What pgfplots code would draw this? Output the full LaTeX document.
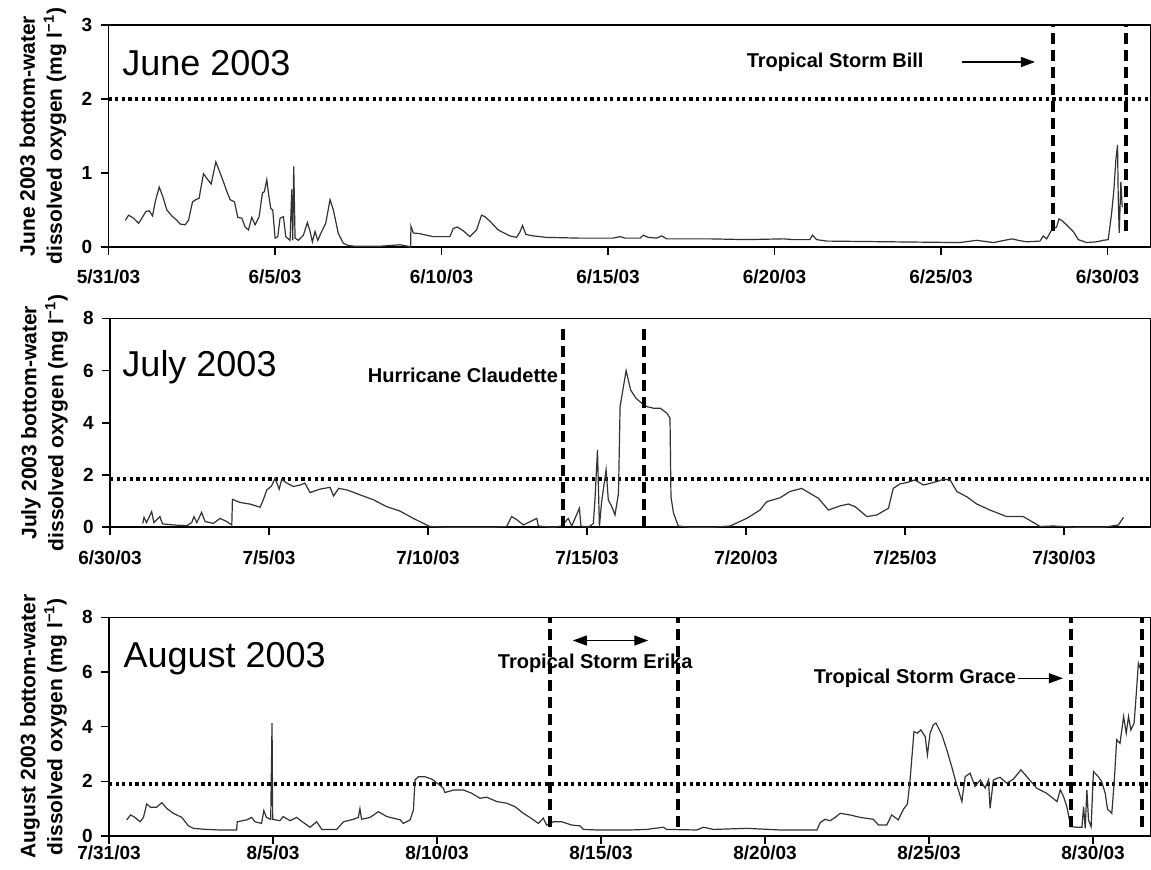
\documentclass[border=0pt]{standalone}
\usepackage{fontspec}
\setmainfont{Liberation Sans}
\usepackage{pgfplots}
\pgfplotsset{compat=1.18}
\usetikzlibrary{arrows.meta}

% dissolved oxygen records, x = days since start of month axis
\pgfplotstableread{
x y
0.50 0.36
0.60 0.43
0.75 0.39
0.90 0.32
1.00 0.39
1.12 0.48
1.22 0.49
1.32 0.42
1.40 0.61
1.52 0.81
1.63 0.68
1.75 0.50
1.90 0.42
2.05 0.36
2.15 0.31
2.30 0.30
2.40 0.36
2.52 0.61
2.62 0.64
2.72 0.66
2.78 0.82
2.85 0.99
2.98 0.91
3.08 0.85
3.15 1.00
3.22 1.15
3.35 1.00
3.45 0.88
3.55 0.75
3.65 0.64
3.78 0.61
3.88 0.40
4.00 0.39
4.10 0.27
4.20 0.23
4.30 0.40
4.40 0.30
4.52 0.41
4.62 0.73
4.68 0.75
4.75 0.91
4.80 0.73
4.87 0.52
4.93 0.50
5.00 0.12
5.08 0.14
5.15 0.39
5.25 0.41
5.32 0.14
5.45 0.09
5.50 0.78
5.53 0.09
5.56 1.09
5.60 0.12
5.70 0.09
5.85 0.16
5.97 0.33
6.05 0.21
6.12 0.07
6.20 0.21
6.28 0.09
6.40 0.21
6.52 0.32
6.65 0.64
6.75 0.50
6.90 0.18
7.05 0.05
7.20 0.02
7.40 0.01
8.15 0.01
8.45 0.02
8.75 0.03
9.00 0.01
9.07 0.00
9.08 0.28
9.15 0.19
9.35 0.18
9.75 0.14
10.25 0.14
10.35 0.25
10.47 0.27
10.65 0.22
10.85 0.14
11.05 0.23
11.20 0.43
11.30 0.41
11.45 0.35
11.70 0.23
12.05 0.15
12.25 0.13
12.35 0.20
12.43 0.29
12.53 0.17
12.75 0.15
13.15 0.13
14.15 0.12
15.15 0.12
15.36 0.14
15.51 0.12
15.96 0.12
16.06 0.16
16.21 0.13
16.46 0.12
16.61 0.15
16.76 0.11
18.06 0.11
19.16 0.10
20.26 0.11
20.56 0.10
21.06 0.10
21.14 0.16
21.26 0.10
21.56 0.08
23.56 0.07
25.56 0.06
26.07 0.09
26.57 0.06
27.13 0.11
27.32 0.09
27.57 0.07
27.97 0.08
28.07 0.15
28.17 0.11
28.32 0.23
28.47 0.27
28.54 0.38
28.62 0.36
28.77 0.30
28.97 0.21
29.12 0.10
29.37 0.06
29.67 0.07
29.87 0.09
30.02 0.10
30.12 0.45
30.19 0.77
30.25 1.18
30.30 1.38
30.32 0.68
30.35 0.19
30.40 0.88
30.44 0.54
}\june

\pgfplotstableread{
x y
1.03 0.15
1.07 0.38
1.15 0.18
1.31 0.60
1.38 0.18
1.57 0.41
1.65 0.13
1.99 0.09
2.41 0.06
2.57 0.18
2.64 0.41
2.73 0.18
2.88 0.57
2.99 0.22
3.25 0.15
3.46 0.34
3.67 0.22
3.83 0.09
3.85 1.07
4.09 0.95
4.40 0.89
4.72 0.77
4.82 1.05
4.93 1.43
5.08 1.58
5.19 1.88
5.32 1.46
5.40 1.84
5.56 1.69
5.77 1.56
5.98 1.62
6.13 1.69
6.29 1.33
6.60 1.46
6.92 1.53
7.03 1.20
7.19 1.49
7.45 1.43
7.87 1.24
8.29 1.05
8.70 0.79
9.12 0.62
9.54 0.34
10.06 0.03
10.59 0.00
11.53 0.00
12.06 0.00
12.47 0.03
12.63 0.41
12.77 0.31
13.00 0.09
13.42 0.34
13.47 0.05
13.94 0.00
14.20 0.05
14.41 0.34
14.52 0.05
14.76 0.73
14.81 0.05
15.04 0.00
15.20 0.15
15.25 1.05
15.33 2.96
15.39 0.03
15.46 0.98
15.60 2.20
15.67 1.05
15.78 0.79
15.88 0.47
15.99 1.30
16.04 4.62
16.23 6.00
16.37 5.26
16.54 4.94
16.72 4.75
16.88 4.62
17.09 4.56
17.30 4.56
17.51 4.37
17.61 4.18
17.64 1.17
17.72 0.54
17.87 0.05
18.24 0.00
18.97 0.00
19.50 0.05
20.02 0.34
20.44 0.66
20.65 0.98
21.07 1.13
21.38 1.37
21.75 1.49
22.01 1.30
22.28 1.11
22.59 0.66
22.96 0.82
23.22 0.89
23.43 0.79
23.80 0.41
24.11 0.47
24.48 0.73
24.63 1.49
24.84 1.66
25.05 1.71
25.31 1.81
25.58 1.62
26.00 1.75
26.21 1.84
26.42 1.81
26.63 1.37
26.94 1.17
27.26 0.89
27.67 0.66
28.20 0.41
28.72 0.41
29.25 0.03
29.66 0.05
30.40 0.00
31.24 0.00
31.71 0.09
31.87 0.38
}\july

\pgfplotstableread{
x y
0.54 0.59
0.66 0.77
0.79 0.68
0.95 0.52
1.05 0.68
1.15 1.17
1.27 1.05
1.45 1.05
1.61 1.22
1.76 1.01
1.96 0.83
2.22 0.68
2.42 0.37
2.57 0.28
2.98 0.24
3.38 0.22
3.89 0.22
3.91 0.52
4.20 0.59
4.35 0.68
4.45 0.52
4.65 0.46
4.72 0.93
4.80 0.68
4.93 0.61
4.97 4.13
4.99 0.61
5.21 0.56
5.31 0.71
5.52 0.56
5.72 0.68
5.93 0.49
6.13 0.32
6.33 0.52
6.49 0.24
6.94 0.24
7.15 0.52
7.45 0.61
7.60 0.68
7.65 1.00
7.70 0.61
7.96 0.68
8.21 0.89
8.47 0.71
8.88 0.59
8.97 0.46
9.18 0.59
9.28 0.95
9.33 2.05
9.43 2.17
9.63 2.17
9.84 2.08
10.04 1.90
10.19 1.75
10.24 1.59
10.50 1.68
10.81 1.68
11.06 1.56
11.31 1.38
11.51 1.42
11.82 1.26
12.12 1.20
12.38 1.07
12.63 0.83
12.83 0.68
13.09 0.46
13.24 0.65
13.34 0.40
13.55 0.52
13.80 0.52
14.11 0.40
14.36 0.37
14.46 0.24
14.87 0.22
15.89 0.22
16.39 0.24
16.90 0.32
17.00 0.24
17.92 0.22
18.12 0.32
18.43 0.24
19.44 0.28
20.46 0.22
21.58 0.22
21.68 0.49
21.83 0.61
21.98 0.56
22.14 0.68
22.29 0.83
22.59 0.77
22.90 0.68
23.30 0.61
23.46 0.40
23.71 0.40
23.86 0.77
24.06 0.59
24.22 0.98
24.34 1.17
24.42 2.05
24.54 3.82
24.64 3.76
24.75 3.88
24.88 3.64
24.95 2.97
25.03 3.76
25.13 4.07
25.21 4.13
25.39 3.70
25.54 3.15
25.69 2.54
25.80 2.05
26.00 1.26
26.10 2.17
26.25 2.30
26.40 1.81
26.56 2.05
26.71 1.75
26.81 2.05
26.86 1.01
26.96 2.05
27.16 2.15
27.37 1.93
27.57 2.08
27.80 2.42
27.98 2.17
28.28 1.75
28.59 1.56
28.90 1.26
29.00 1.69
29.10 1.44
29.20 1.07
29.32 0.34
29.51 0.32
29.66 0.32
29.71 1.07
29.76 0.28
29.81 1.69
29.86 0.59
29.94 0.34
30.01 2.36
30.16 2.17
30.26 1.99
30.37 1.56
30.44 0.98
30.57 0.83
30.64 1.93
30.72 3.52
30.82 3.39
30.93 4.37
31.01 3.76
31.08 4.37
31.15 3.88
31.25 4.13
31.31 5.10
31.38 6.32
31.43 6.14
}\august

\pgfplotsset{
  panel/.style={
    scale only axis,
    anchor=north west,
    xmin=0, ymin=0,
    xtick={0,5,10,15,20,25,30},
    tick pos=left,
    tick align=outside,
    major tick length=4pt,
    axis line style={black, line width=0.8pt},
    tick style={black, line width=0.8pt},
    /pgf/number format/assume math mode=true,
    ticklabel style={font=\bfseries\fontsize{9.5}{11}\selectfont},
    xticklabel style={yshift=-4pt},
    yticklabel style={anchor=east, inner xsep=4pt},
    ylabel style={at={(axis description cs:-0.063,0.5)}, anchor=center,
      align=center, font=\bfseries\fontsize{10.5}{13.5}\selectfont},
  },
  do/.style={black!80, line width=0.6pt},
  hypoxia/.style={black, line width=1.6pt, dash pattern=on 1.6pt off 1.7pt},
  storm/.style={black, line width=2pt, dash pattern=on 5.5pt off 3pt},
}
\tikzset{
  month/.style={anchor=base west, inner sep=0pt, font=\fontsize{18}{20}\selectfont},
  stormlabel/.style={inner sep=0pt, font=\bfseries\fontsize{10}{12}\selectfont},
}

\begin{document}
\begin{tikzpicture}
\begin{axis}[panel,
  at={(54.3pt,-12.5pt)}, width=520.95pt, height=111pt,
  xmax=31.29, ymax=3, ytick={0,1,2,3},
  xticklabels={5/31/03,6/5/03,6/10/03,6/15/03,6/20/03,6/25/03,6/30/03},
  ylabel={June 2003 bottom-water\\dissolved oxygen (mg l\textsuperscript{−1})}]
  \addplot[hypoxia] coordinates {(0,2) (31.29,2)};
  \addplot[do] table[x=x, y=y] {\june};
  \addplot[storm] coordinates {(28.35,0.22) (28.35,3)};
  \addplot[storm] coordinates {(30.54,0.22) (30.54,3)};
  \node[month] at (axis cs:0.4,2.32) {June 2003};
  \node[stormlabel] at (axis cs:21.82,2.5) {Tropical Storm Bill};
  \draw[line width=0.6pt, -{Triangle[length=7pt,width=5pt]}] (axis cs:25.62,2.5) -- (axis cs:27.82,2.5);
\end{axis}

\begin{axis}[panel,
  at={(55pt,-159.15pt)}, width=520.25pt, height=104.5pt,
  xmax=32.72, ymax=8, ytick={0,2,4,6,8},
  xticklabels={6/30/03,7/5/03,7/10/03,7/15/03,7/20/03,7/25/03,7/30/03},
  ylabel={July 2003 bottom-water\\dissolved oxygen (mg l\textsuperscript{−1})}]
  \addplot[hypoxia] coordinates {(0,1.85) (32.72,1.85)};
  \addplot[do] table[x=x, y=y] {\july};
  \addplot[storm] coordinates {(14.24,0) (14.24,7.75)};
  \addplot[storm] coordinates {(16.8,0) (16.8,7.75)};
  \node[month] at (axis cs:0.38,5.76) {July 2003};
  \node[stormlabel, anchor=east] at (axis cs:14.1,5.82) {Hurricane Claudette};
\end{axis}

\begin{axis}[panel,
  at={(54.5pt,-308.65pt)}, width=520.75pt, height=109.35pt,
  xmax=31.75, ymax=8, ytick={0,2,4,6,8},
  xticklabel style={yshift=6.5pt},
  xticklabels={7/31/03,8/5/03,8/10/03,8/15/03,8/20/03,8/25/03,8/30/03},
  ylabel={August 2003 bottom-water\\dissolved oxygen (mg l\textsuperscript{−1})}]
  \addplot[hypoxia] coordinates {(0,1.9) (31.75,1.9)};
  \addplot[do] table[x=x, y=y] {\august};
  \addplot[storm] coordinates {(13.43,0.33) (13.43,8)};
  \addplot[storm] coordinates {(17.36,0.33) (17.36,8)};
  \addplot[storm] coordinates {(29.32,0.33) (29.32,8)};
  \addplot[storm] coordinates {(31.49,0.33) (31.49,8)};
  \node[month] at (axis cs:0.43,6.18) {August 2003};
  \node[stormlabel] at (axis cs:14.82,6.31) {Tropical Storm Erika};
  \draw[line width=0.6pt, {Triangle[length=7pt,width=5pt]}-{Triangle[length=7pt,width=5pt]}] (axis cs:14.14,7.15) -- (axis cs:16.44,7.15);
  \node[stormlabel] at (axis cs:24.57,5.77) {Tropical Storm Grace};
  \draw[line width=0.6pt, -{Triangle[length=7pt,width=5pt]}] (axis cs:27.71,5.77) -- (axis cs:29.08,5.77);
\end{axis}

\pgfresetboundingbox
\path (0,0) rectangle (575.5pt,-434.5pt);
\end{tikzpicture}
\end{document}
